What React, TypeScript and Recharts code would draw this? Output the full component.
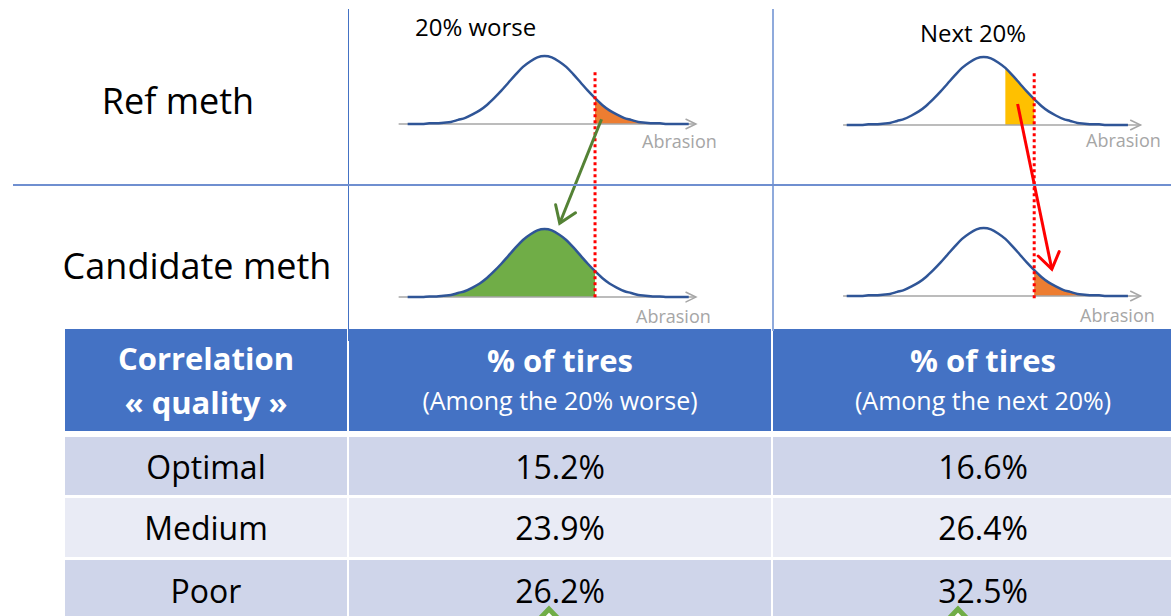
import React from 'react';
import { ComposedChart, Area, Line, XAxis, YAxis, ReferenceLine } from 'recharts';

// abrasion axis in std-dev units, density (peak = 1)
const abrasion = [
  -3.8, -3.6, -3.4, -3.2, -3.0, -2.8, -2.6, -2.4, -2.2, -2.0,
  -1.8, -1.6, -1.4, -1.2, -1.0, -0.8, -0.6, -0.4, -0.2, 0.0,
  0.2, 0.4, 0.6, 0.8, 1.0, 1.2, 1.4, 1.6, 1.8, 2.0,
  2.2, 2.4, 2.6, 2.8, 3.0, 3.2, 3.4, 3.6, 3.8, 4.0,
];
const refDensity = [
  0.0, 0.0, 0.0, 0.01, 0.01, 0.02, 0.03, 0.06, 0.09, 0.14,
  0.2, 0.28, 0.38, 0.49, 0.61, 0.73, 0.84, 0.92, 0.98, 1.0,
  0.98, 0.92, 0.84, 0.73, 0.61, 0.49, 0.38, 0.28, 0.2, 0.14,
  0.09, 0.06, 0.03, 0.02, 0.01, 0.01, 0.0, 0.0, 0.0, 0.0,
];
const candDensity = [
  0.0, 0.0, 0.0, 0.01, 0.01, 0.02, 0.03, 0.06, 0.09, 0.14,
  0.2, 0.28, 0.38, 0.49, 0.61, 0.73, 0.84, 0.92, 0.98, 1.0,
  0.98, 0.92, 0.84, 0.73, 0.61, 0.49, 0.38, 0.28, 0.2, 0.14,
  0.09, 0.06, 0.03, 0.02, 0.01, 0.01, 0.0, 0.0, 0.0, 0.0,
];

// thresholds (same units)
const worseCut = 1.4;
const nextLow = 0.6;

// table
const qualities = ['Optimal', 'Medium', 'Poor'];
const pctWorse = [15.2, 23.9, 26.2];
const pctNext = [16.6, 26.4, 32.5];

const BLUE = '#4472C4';
const CURVE = '#2F5597';
const ORANGE = '#ED7D31';
const YELLOW = '#FFC000';
const GREEN = '#70AD47';
const FONT = '"Open Sans", sans-serif';

const inRange = (x: number, lo: number, hi: number) => x >= lo - 1e-9 && x <= hi + 1e-9;

function buildRows(topLo: number, topHi: number, botLo: number, botHi: number) {
  return abrasion.map((x, i) => ({
    x,
    top: refDensity[i],
    bottom: candDensity[i],
    topShade: inRange(x, topLo, topHi) ? refDensity[i] : null,
    bottomShade: inRange(x, botLo, botHi) ? candDensity[i] : null,
  }));
}

const arrowShape = (color: string, width: number, head: number, spread: number) => (p: any) => {
  const { x1, y1, x2, y2 } = p;
  const a = Math.atan2(y2 - y1, x2 - x1);
  const hx1 = x2 - head * Math.cos(a - spread);
  const hy1 = y2 - head * Math.sin(a - spread);
  const hx2 = x2 - head * Math.cos(a + spread);
  const hy2 = y2 - head * Math.sin(a + spread);
  return (
    <g>
      <line x1={x1} y1={y1} x2={x2} y2={y2} stroke={color} strokeWidth={width} />
      <polyline
        points={`${hx1},${hy1} ${x2},${y2} ${hx2},${hy2}`}
        fill="none"
        stroke={color}
        strokeWidth={width}
        strokeLinecap="round"
      />
    </g>
  );
};

interface ColumnProps {
  left: number;
  width: number;
  xDomain: [number, number];
  topDomain: [number, number];
  bottomDomain: [number, number];
  data: any[];
  topFill: string;
  bottomFill: string;
  axisFrom: number;
  axisTo: number;
  arrow: { from: [number, number]; to: [number, number]; color: string };
}

function CurveColumn(props: ColumnProps) {
  const { left, width, xDomain, topDomain, bottomDomain, data, topFill, bottomFill, axisFrom, axisTo, arrow } = props;
  const axisArrow = arrowShape('#A6A6A6', 1.5, 11, 0.45);
  return (
    <div style={{ position: 'absolute', left, top: 40 }}>
      <ComposedChart width={width} height={270} data={data} margin={{ top: 0, right: 0, bottom: 0, left: 0 }}>
        <XAxis dataKey="x" type="number" domain={xDomain} allowDataOverflow hide />
        <YAxis yAxisId="top" type="number" domain={topDomain} allowDataOverflow hide />
        <YAxis yAxisId="bottom" type="number" domain={bottomDomain} allowDataOverflow hide />

        <ReferenceLine yAxisId="top" segment={[{ x: axisFrom, y: 0 }, { x: axisTo, y: 0 }]} shape={axisArrow} />
        <ReferenceLine yAxisId="bottom" segment={[{ x: axisFrom, y: 0 }, { x: axisTo, y: 0 }]} shape={axisArrow} />

        <Area yAxisId="top" dataKey="topShade" type="monotone" baseValue={0} fill={topFill} fillOpacity={1}
          stroke="none" isAnimationActive={false} />
        <Area yAxisId="bottom" dataKey="bottomShade" type="monotone" baseValue={0} fill={bottomFill} fillOpacity={1}
          stroke="none" isAnimationActive={false} />
        <Line yAxisId="top" dataKey="top" type="monotone" stroke={CURVE} strokeWidth={2.5} dot={false}
          isAnimationActive={false} />
        <Line yAxisId="bottom" dataKey="bottom" type="monotone" stroke={CURVE} strokeWidth={2.5} dot={false}
          isAnimationActive={false} />

        <ReferenceLine yAxisId="top" segment={[{ x: worseCut, y: 0.76 }, { x: worseCut, y: -2.55 }]}
          stroke="#FF0000" strokeWidth={3} strokeDasharray="3 3" />
        <ReferenceLine yAxisId="top" segment={[{ x: arrow.from[0], y: arrow.from[1] }, { x: arrow.to[0], y: arrow.to[1] }]}
          shape={arrowShape(arrow.color, 3, 19, 0.6)} />
      </ComposedChart>
    </div>
  );
}

function Txt({ x, y, size, children, color = '#000', bold = false, anchor = 'middle' }: any) {
  return (
    <div
      style={{
        position: 'absolute', left: x, top: y, fontSize: size, color, fontWeight: bold ? 700 : 400,
        lineHeight: 1, whiteSpace: 'nowrap',
        transform: anchor === 'middle' ? 'translate(-50%, -50%)' : 'translate(0, -50%)',
      }}
    >
      {children}
    </div>
  );
}

const cols = [
  { left: 65, width: 282 },
  { left: 349, width: 422 },
  { left: 773, width: 420 },
];
const rowBoxes = [
  { top: 437, height: 58, bg: '#CFD5EA' },
  { top: 498, height: 59, bg: '#E9EBF5' },
  { top: 560, height: 60, bg: '#CFD5EA' },
];

function Cell({ col, top, height, bg, children }: any) {
  return (
    <div
      style={{
        position: 'absolute', left: cols[col].left, top, width: cols[col].width, height, background: bg,
        display: 'flex', flexDirection: 'column', alignItems: 'center', justifyContent: 'center',
        whiteSpace: 'nowrap',
      }}
    >
      {children}
    </div>
  );
}

const headBold = { color: '#fff', fontWeight: 700, fontSize: 31 };
const headSub = { color: '#fff', fontSize: 25, lineHeight: '40px' };

export default function App() {
  const leftRows = buildRows(worseCut, 99, -99, worseCut);
  const rightRows = buildRows(nextLow, worseCut, worseCut, 99);
  const fmt = (v: number) => `${v.toFixed(1)}%`;

  return (
    <div style={{ position: 'absolute', left: 0, top: 0, width: 1171, height: 616, overflow: 'hidden', background: '#fff', fontFamily: FONT }}>
      <Txt x={178} y={101} size={36}>Ref meth</Txt>
      <Txt x={197} y={266} size={36}>Candidate meth</Txt>
      <Txt x={415} y={27} size={24} anchor="start">20% worse</Txt>
      <Txt x={920} y={33} size={24} anchor="start">Next 20%</Txt>

      <CurveColumn
        left={350} width={418} xDomain={[-5.4, 6.2]} topDomain={[-2.735, 1.235]} bottomDomain={[-0.19, 3.78]}
        data={leftRows} topFill={ORANGE} bottomFill={GREEN} axisFrom={-4.05} axisTo={4.2}
        arrow={{ from: [1.58, 0.07], to: [0.42, -1.46], color: '#548235' }}
      />
      <CurveColumn
        left={789} width={375} xDomain={[-5.4, 5.0]} topDomain={[-2.72, 1.25]} bottomDomain={[-0.206, 3.765]}
        data={rightRows} topFill={YELLOW} bottomFill={ORANGE} axisFrom={-3.9} axisTo={4.35}
        arrow={{ from: [0.94, 0.31], to: [1.89, -2.12], color: '#FF0000' }}
      />

      <Txt x={642} y={141} size={18} color="#A6A6A6" anchor="start">Abrasion</Txt>
      <Txt x={636} y={316} size={18} color="#A6A6A6" anchor="start">Abrasion</Txt>
      <Txt x={1086} y={140} size={18} color="#A6A6A6" anchor="start">Abrasion</Txt>
      <Txt x={1080} y={315} size={18} color="#A6A6A6" anchor="start">Abrasion</Txt>

      {/* table */}
      <Cell col={0} top={329} height={102} bg={BLUE}>
        <div style={{ ...headBold, lineHeight: '44px' }}>Correlation</div>
        <div style={{ ...headBold, lineHeight: '44px' }}>« quality »</div>
      </Cell>
      <Cell col={1} top={329} height={102} bg={BLUE}>
        <div style={{ ...headBold, lineHeight: '40px' }}>% of tires</div>
        <div style={headSub}>(Among the 20% worse)</div>
      </Cell>
      <Cell col={2} top={329} height={102} bg={BLUE}>
        <div style={{ ...headBold, lineHeight: '40px' }}>% of tires</div>
        <div style={headSub}>(Among the next 20%)</div>
      </Cell>
      {qualities.map((q, i) => (
        <React.Fragment key={q}>
          <Cell col={0} top={rowBoxes[i].top} height={rowBoxes[i].height} bg={rowBoxes[i].bg}>
            <div style={{ fontSize: 32 }}>{q}</div>
          </Cell>
          <Cell col={1} top={rowBoxes[i].top} height={rowBoxes[i].height} bg={rowBoxes[i].bg}>
            <div style={{ fontSize: 32 }}>{fmt(pctWorse[i])}</div>
          </Cell>
          <Cell col={2} top={rowBoxes[i].top} height={rowBoxes[i].height} bg={rowBoxes[i].bg}>
            <div style={{ fontSize: 32 }}>{fmt(pctNext[i])}</div>
          </Cell>
        </React.Fragment>
      ))}

      {/* grid lines */}
      <div style={{ position: 'absolute', left: 348, top: 9, width: 1, height: 332, background: BLUE }} />
      <div style={{ position: 'absolute', left: 772, top: 9, width: 2, height: 322, background: '#8FAADC' }} />
      <div style={{ position: 'absolute', left: 13, top: 184, width: 1160, height: 2, background: '#6F8FD0' }} />

      {/* green callout arrows under the table */}
      <svg style={{ position: 'absolute', left: 0, top: 0 }} width={1171} height={616}>
        <polygon points="549,609 527,632 571,632" fill="#fff" stroke={GREEN} strokeWidth={5} />
        <polygon points="958,609 936,632 980,632" fill="#fff" stroke={GREEN} strokeWidth={5} />
      </svg>
    </div>
  );
}
